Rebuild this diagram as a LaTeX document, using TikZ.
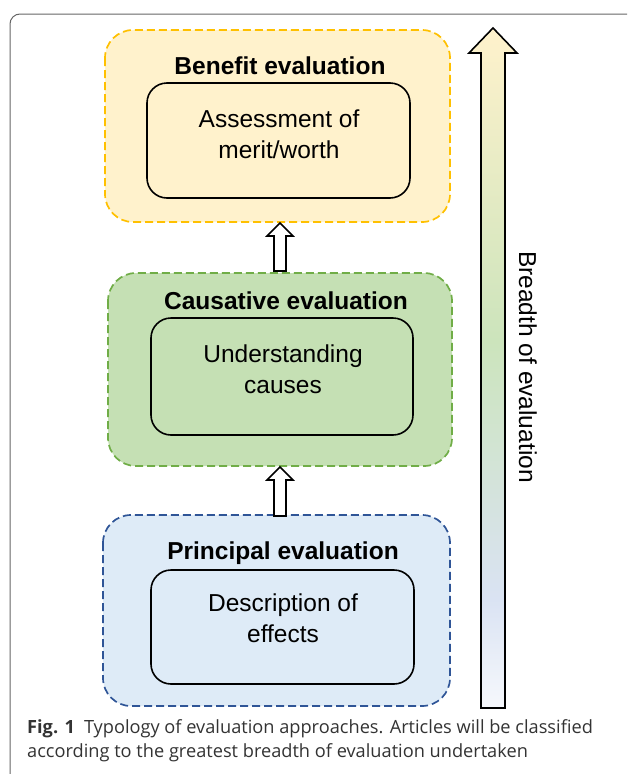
\documentclass[tikz,border=0pt]{standalone}
\usepackage{fontspec}
\setmainfont{Liberation Sans}
\newfontfamily\capfont{Open Sans}
\definecolor{yfill}{HTML}{FFF2CC}
\definecolor{ydraw}{HTML}{FFC000}
\definecolor{gfill}{HTML}{C5E0B4}
\definecolor{gdraw}{HTML}{70AD47}
\definecolor{bfill}{HTML}{DEEBF7}
\definecolor{bdraw}{HTML}{2F5597}
\definecolor{capcol}{HTML}{333333}
\definecolor{s1}{HTML}{F6F8FC}
\definecolor{s2}{HTML}{DAE3F3}
\definecolor{s3}{HTML}{CCE4BC}
\definecolor{s4}{HTML}{FFF2CC}
\pgfdeclareverticalshading{bigarrowshade}{100bp}{color(0bp)=(s1); color(25bp)=(s1); color(33bp)=(s2); color(52bp)=(s3); color(75bp)=(s4); color(100bp)=(s4)}
\begin{document}
\begin{tikzpicture}[x=1pt,y=-1pt,
  group/.style={rounded corners=28pt,line width=1.7pt,dash pattern=on 8pt off 4pt},
  inner/.style={draw=black,rounded corners=20pt,line width=1.6pt},
  title/.style={font=\fontsize{24.5}{28}\selectfont\bfseries},
  body/.style={font=\fontsize{24.5}{31}\selectfont,align=center},
  hollow/.style={draw=black,line width=1.6pt,fill=white}]
\useasboundingbox (0,0) rectangle (627,774);
\begin{scope}
\clip (0,0) rectangle (627,774);
\draw[gray!80!black,line width=1pt,rounded corners=10pt] (10,14) rectangle (660,800);
\end{scope}
% groups
\draw[group,draw=ydraw,fill=yfill] (105,30) rectangle (450,222);
\draw[group,draw=gdraw,fill=gfill] (108,273) rectangle (452,466);
\draw[group,draw=bdraw,fill=bfill] (103,515) rectangle (450,706);
\node[title] (t1) at (280,66) {Benefit evaluation};
\node[title] (t2) at (286,301) {Causative evaluation};
\node[title] (t3) at (283,553) {Principal evaluation};
\draw[inner,fill=yfill] (147,83) rectangle (410,198);
\draw[inner,fill=gfill] (151,318) rectangle (413,435);
\draw[inner,fill=bfill] (151,570) rectangle (414,684);
\node[body] (b1) at (279,134) {Assessment of\\merit/worth};
\node[body] (b2) at (283,369) {Understanding\\causes};
\node[body] (b3) at (283,618) {Description of\\effects};
% small arrows
\coordinate (a1) at (280,223);
\coordinate (a2) at (280,467);
\draw[hollow] (a1) -- ++(13,13) -- ++(-7,0) -- ++(0,35) -- ++(-12,0) -- ++(0,-35) -- ++(-7,0) -- cycle;
\draw[hollow] (a2) -- ++(13,13) -- ++(-7,0) -- ++(0,36) -- ++(-12,0) -- ++(0,-36) -- ++(-7,0) -- cycle;
% big arrow
\coordinate (tip) at (493,28);
\shade[shading=bigarrowshade]
 (tip) -- (517,53) -- (505,53) -- (505,708) -- (481,708) -- (481,53) -- (469,53) -- cycle;
\draw[line width=1.6pt,line join=miter] (tip) -- (517,53) -- (505,53) -- (505,708) -- (481,708) -- (481,53) -- (469,53) -- cycle;
\node[rotate=-90,font=\fontsize{24.5}{28}\selectfont] (br) at (528,367) {Breadth of evaluation};
% caption
\node[anchor=north west,align=left,text=capcol,font=\capfont\fontsize{18.2}{24}\selectfont,inner sep=0pt] (cap) at (27,719)
 {\textbf{Fig. 1}\hspace{0.5em}Typology of evaluation approaches. Articles will be classified\\according to the greatest breadth of evaluation undertaken};
\end{tikzpicture}
\end{document}
